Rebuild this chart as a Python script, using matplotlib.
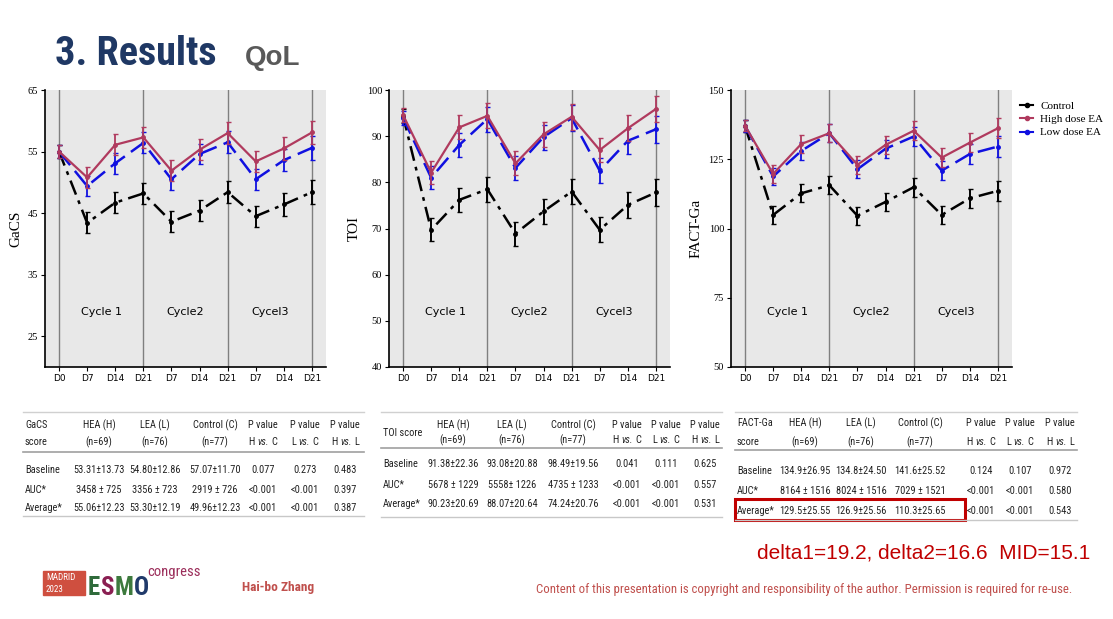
import matplotlib
matplotlib.use("Agg")
import matplotlib.pyplot as plt
from matplotlib import font_manager
from matplotlib.font_manager import FontProperties
from matplotlib.patches import Rectangle
from matplotlib.lines import Line2D

W, H = 1113, 619

# ---- data ----
visits = ['D0', 'D7', 'D14', 'D21', 'D7', 'D14', 'D21', 'D7', 'D14', 'D21']
cycle_labels = ['Cycle 1', 'Cycle2', 'Cycel3']
group_names = ['Control', 'High dose EA', 'Low dose EA']

gacs_control = [55.0, 43.4, 46.7, 48.2, 43.6, 45.4, 48.4, 44.5, 46.4, 48.4]
gacs_high = [55.0, 50.8, 56.1, 57.3, 51.9, 55.3, 58.0, 53.4, 55.5, 58.1]
gacs_low = [55.0, 49.4, 53.1, 56.4, 50.5, 54.6, 56.5, 50.5, 53.6, 55.6]
gacs_err = [1.0, 1.7, 1.7, 1.7, 1.7, 1.7, 1.8, 1.7, 1.8, 1.9]

toi_control = [94.4, 69.7, 76.2, 78.5, 68.9, 73.7, 78.0, 69.7, 75.1, 77.8]
toi_high = [94.6, 82.1, 91.9, 94.4, 84.1, 90.4, 94.2, 87.0, 91.7, 95.9]
toi_low = [94.0, 81.0, 88.1, 93.7, 83.1, 89.8, 93.9, 82.5, 89.0, 91.5]
toi_err = [1.5, 2.5, 2.6, 2.7, 2.6, 2.7, 2.8, 2.7, 2.8, 2.9]

fact_control = [137.0, 104.9, 112.7, 115.6, 104.6, 109.6, 114.9, 104.9, 110.9, 113.6]
fact_high = [137.1, 119.7, 130.5, 134.4, 123.0, 130.2, 135.3, 125.6, 131.0, 136.2]
fact_low = [137.0, 118.8, 128.0, 134.4, 121.4, 128.8, 133.2, 120.9, 126.9, 129.6]
fact_err = [2.0, 3.1, 3.3, 3.3, 3.2, 3.3, 3.5, 3.3, 3.5, 3.7]

tab_header = ['HEA (H)', 'LEA (L)', 'Control (C)', 'P value', 'P value', 'P value']
tab_sub = ['(n=69)', '(n=76)', '(n=77)', ('H', 'C'), ('L', 'C'), ('H', 'L')]
row_names = ['Baseline', 'AUC*', 'Average*']

gacs_rows = [['53.31±13.73', '54.80±12.86', '57.07±11.70', '0.077', '0.273', '0.483'],
             ['3458 ± 725', '3356 ± 723', '2919 ± 726', '<0.001', '<0.001', '0.397'],
             ['55.06±12.23', '53.30±12.19', '49.96±12.23', '<0.001', '<0.001', '0.387']]
toi_rows = [['91.38±22.36', '93.08±20.88', '98.49±19.56', '0.041', '0.111', '0.625'],
            ['5678 ± 1229', '5558± 1226', '4735 ± 1233', '<0.001', '<0.001', '0.557'],
            ['90.23±20.69', '88.07±20.64', '74.24±20.76', '<0.001', '<0.001', '0.531']]
fact_rows = [['134.9±26.95', '134.8±24.50', '141.6±25.52', '0.124', '0.107', '0.972'],
             ['8164 ± 1516', '8024 ± 1516', '7029 ± 1521', '<0.001', '<0.001', '0.580'],
             ['129.5±25.55', '126.9±25.56', '110.3±25.65', '<0.001', '<0.001', '0.543']]


# ---- a condensed sans for the slide text, if one is installed ----
def pick_condensed():
    prefs = ['Liberation Sans Narrow', 'Arial Narrow', 'Roboto Condensed', 'Noto Sans',
             'Open Sans', 'Liberation Sans', 'DejaVu Sans', 'Roboto']
    found = {}
    for f in font_manager.fontManager.ttflist:
        low = (f.fname + ' ' + f.name).lower()
        base = f.fname.split('/')[-1].lower()
        if not ('narrow' in low or 'condensed' in low):
            continue
        if any(k in base for k in ('extra', 'semi', 'ultra', 'mono', 'serif')):
            continue
        for i, p in enumerate(prefs):
            if f.name.startswith(p):
                found.setdefault(i, []).append(f)
                break
    for i in sorted(found):
        fs = found[i]
        reg = [f for f in fs if f.weight in (400, 'normal', 'regular') and f.style == 'normal']
        bold = [f for f in fs if f.weight in (700, 'bold') and f.style == 'normal']
        ital = [f for f in fs if f.weight in (400, 'normal', 'regular') and f.style != 'normal']
        if reg:
            r = reg[0].fname
            return r, (bold[0].fname if bold else r), (ital[0].fname if ital else r)
    return None


COND = pick_condensed()


def fp(kind='r', size=8):
    if COND:
        return FontProperties(fname=COND['rbi'.index(kind)], size=size)
    return FontProperties(family='Liberation Sans', size=size * 0.82,
                          weight='bold' if kind == 'b' else 'normal',
                          style='italic' if kind == 'i' else 'normal')


C_HIGH = '#b03a5e'
C_LOW = '#1010e0'
C_CTRL = '#000000'
C_TAB = '#222222'


def fx(x):
    return x / W


def fy(y):
    return 1 - y / H


fig = plt.figure(figsize=(W / 100, H / 100), dpi=100)
fig.patch.set_facecolor('white')
renderer = fig.canvas.get_renderer()


def chart(left, ylim, yticks, ylabel, ctrl, high, low, err):
    ax = fig.add_axes([fx(left), fy(367), 281 / W, 277 / H])
    ax.set_facecolor('#e8e8e8')
    x = list(range(len(visits)))
    for v in (0, 3, 6, 9):
        ax.axvline(v, color='#7f7f7f', lw=1, zorder=1)
    ax.errorbar(x, ctrl, yerr=err, color=C_CTRL, lw=1.8, dashes=(6, 2.5, 1.5, 2.5),
                marker='o', ms=2.5, capsize=1.8, elinewidth=1.4, zorder=3)
    ax.errorbar(x, low, yerr=err, color=C_LOW, lw=1.8, dashes=(7, 3),
                marker='o', ms=2.5, capsize=1.8, elinewidth=1.3, zorder=4)
    ax.errorbar(x, high, yerr=err, color=C_HIGH, lw=1.6, ls='-',
                marker='o', ms=2.5, capsize=1.8, elinewidth=1.3, zorder=5)
    ax.set_xlim(-0.5, 9.5)
    ax.set_ylim(*ylim)
    ax.set_yticks(yticks)
    ax.set_yticklabels([str(t) for t in yticks], fontsize=7.5, family='Liberation Serif')
    ax.set_xticks(x)
    ax.set_xticklabels(visits, fontsize=6.5, family='DejaVu Sans')
    ax.tick_params(length=3, width=0.8, pad=2)
    for s in ('top', 'right'):
        ax.spines[s].set_visible(False)
    for s in ('left', 'bottom'):
        ax.spines[s].set_linewidth(1.2)
    ax.set_ylabel(ylabel, family='Liberation Serif', fontsize=11, labelpad=4)
    for i, lab in enumerate(cycle_labels):
        ax.text(1.5 + 3 * i, 0.2, lab, transform=ax.get_xaxis_transform(),
                ha='center', va='center', fontsize=8, family='DejaVu Sans')
    return ax


chart(45, (20, 65), [25, 35, 45, 55, 65], 'GaCS', gacs_control, gacs_high, gacs_low, gacs_err)
chart(389, (40, 100), [40, 50, 60, 70, 80, 90, 100], 'TOI', toi_control, toi_high, toi_low, toi_err)
chart(731, (50, 150), [50, 75, 100, 125, 150], 'FACT-Ga', fact_control, fact_high, fact_low, fact_err)

handles = [Line2D([], [], color=c, marker='o', ms=3, lw=1.5) for c in (C_CTRL, C_HIGH, C_LOW)]
fig.legend(handles, group_names, loc='upper left', bbox_to_anchor=(fx(1016), fy(97)),
           frameon=False, prop={'family': 'Liberation Serif', 'size': 8},
           handlelength=1.1, handletextpad=0.7, labelspacing=0.3, borderaxespad=0)

# ---- title ----
fig.text(fx(55), fy(65), '3. Results', fontproperties=fp('b', 29), color='#1f3864',
         va='baseline', ha='left')
fig.text(fx(245), fy(65), 'QoL', fontsize=20, fontweight='bold', color='#595959',
         family='Liberation Sans', va='baseline', ha='left')


def run_text(x, y, parts, color, gap=2.5):
    """Lay several text pieces (str, fontproperties) side by side, centred on x."""
    widths = []
    for s, prop in parts:
        t = fig.text(0, 0, s, fontproperties=prop)
        widths.append(t.get_window_extent(renderer).width)
        t.remove()
    cur = x - (sum(widths) + gap * (len(parts) - 1)) / 2
    for (s, prop), w in zip(parts, widths):
        fig.text(fx(cur), fy(y), s, fontproperties=prop, color=color, ha='left', va='center')
        cur += w + gap


# ---- tables ----
def table(x0, x1, label, centers, rows, hy, line_y, row_y, top_y, bot_y):
    fig.add_artist(Line2D([fx(x0), fx(x1)], [fy(top_y), fy(top_y)], color='#d0d0d0', lw=1))
    fig.add_artist(Line2D([fx(x0), fx(x1)], [fy(line_y), fy(line_y)], color='#a0a0a0', lw=1.2))
    fig.add_artist(Line2D([fx(x0), fx(x1)], [fy(bot_y), fy(bot_y)], color='#c8c8c8', lw=1))
    size = 7.5
    kw = dict(fontproperties=fp('r', size), color=C_TAB)
    lines = label.split('\n')
    if len(lines) == 2:
        fig.text(fx(x0 + 2), fy(hy[0]), lines[0], ha='left', va='center', **kw)
        fig.text(fx(x0 + 2), fy(hy[1]), lines[1], ha='left', va='center', **kw)
    else:
        fig.text(fx(x0 + 2), fy((hy[0] + hy[1]) / 2), label, ha='left', va='center', **kw)
    for cx, head, sub in zip(centers, tab_header, tab_sub):
        fig.text(fx(cx), fy(hy[0]), head, ha='center', va='center', **kw)
        if isinstance(sub, tuple):
            run_text(cx, hy[1], [(sub[0], fp('r', size)), ('vs.', fp('i', size)),
                                 (sub[1], fp('r', size))], C_TAB)
        else:
            fig.text(fx(cx), fy(hy[1]), sub, ha='center', va='center', **kw)
    for ry, name, vals in zip(row_y, row_names, rows):
        fig.text(fx(x0 + 2), fy(ry), name, ha='left', va='center', **kw)
        for cx, v in zip(centers, vals):
            fig.text(fx(cx), fy(ry), v, ha='center', va='center', **kw)


table(23, 364, 'GaCS\nscore', [99, 155, 215, 263, 305, 345], gacs_rows,
      (425, 442), 452, (470, 490, 508), 412, 516)
table(381, 722, 'TOI score', [453, 512, 573, 627, 666, 705], toi_rows,
      (425, 440), 448, (464, 485, 504), 412, 517)
table(735, 1077, 'FACT-Ga\nscore', [805, 861, 920, 981, 1020, 1060], fact_rows,
      (423, 442), 450, (471, 491, 511), 412, 520)

fig.add_artist(Rectangle((fx(735), fy(520)), (965 - 735) / W, (520 - 499) / H,
                         fill=False, ec='#c00000', lw=2.2, transform=fig.transFigure))

# ---- footer ----
fig.text(fx(1090), fy(553), 'delta1=19.2, delta2=16.6  MID=15.1', ha='right', va='center',
         fontsize=15, family='Liberation Sans', color='#c00000')
fig.text(fx(1072), fy(589), 'Content of this presentation is copyright and responsibility of the author. '
         'Permission is required for re-use.', ha='right', va='center',
         fontproperties=fp('r', 9.2), color='#c0504d')
fig.text(fx(242), fy(588), 'Hai-bo Zhang', ha='left', va='center',
         fontproperties=fp('b', 9.6), color='#c0504d')

fig.add_artist(Rectangle((fx(43), fy(595)), 42 / W, 24 / H, color='#cf4f3f',
                         transform=fig.transFigure))
fig.text(fx(46), fy(577), 'MADRID', fontproperties=fp('r', 6.5), color='white', va='center')
fig.text(fx(46), fy(589), '2023', fontproperties=fp('r', 6.5), color='white', va='center')
cur = 88
for ch, col in zip('ESMO', ('#2f6b3b', '#8a1f52', '#3d7a3d', '#203a6a')):
    t = fig.text(fx(cur), fy(595), ch, fontproperties=fp('b', 18), color=col,
                 va='baseline', ha='left')
    cur += t.get_window_extent(renderer).width + 0.3
fig.text(fx(cur - 2), fy(576), 'congress', fontproperties=fp('r', 10.5), color='#9b2d5a',
         va='baseline', ha='left')

fig.savefig('out.png', dpi=100, facecolor='white')
